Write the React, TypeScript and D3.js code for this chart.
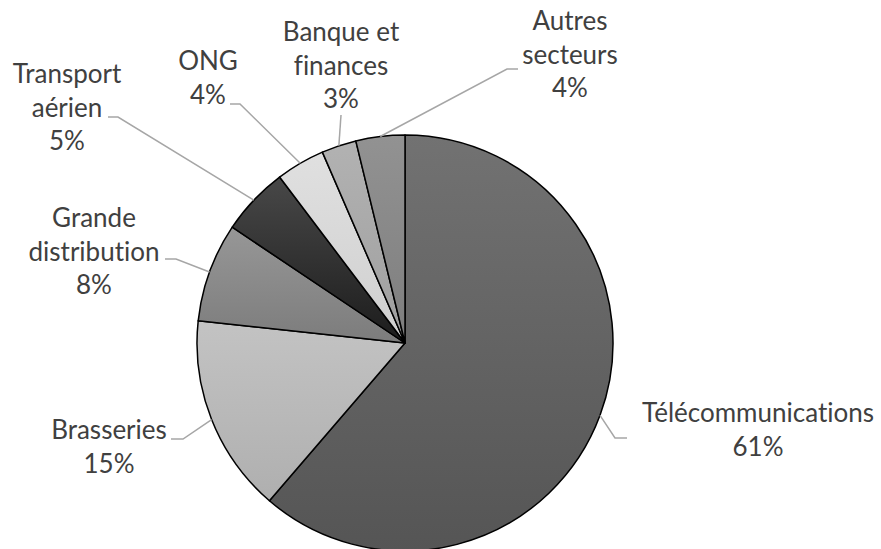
import React from "react";
import * as d3 from "d3";

const categories = [
  "Télécommunications",
  "Brasseries",
  "Grande distribution",
  "Transport aérien",
  "ONG",
  "Banque et finances",
  "Autres secteurs",
];
const values = [61.3, 15.4, 7.7, 5.3, 3.8, 2.7, 3.8];
const labelLines = [
  ["Télécommunications"],
  ["Brasseries"],
  ["Grande", "distribution"],
  ["Transport", "aérien"],
  ["ONG"],
  ["Banque et", "finances"],
  ["Autres", "secteurs"],
];

// layout (positions of labels and leader elbows)
const colorsTop = ["#727272", "#c3c3c3", "#979797", "#484848", "#e0e0e0", "#b2b2b2", "#929292"];
const colorsBottom = ["#555555", "#afafaf", "#7c7c7c", "#1c1c1c", "#cfcfcf", "#9f9f9f", "#7e7e7e"];
const labelPos = [
  { cx: 758, y: 422, elbow: [615, 438], end: [627, 438] },
  { cx: 109, y: 439, elbow: [183, 439], end: [171, 439] },
  { cx: 94, y: 227, elbow: [176, 259], end: [165, 259] },
  { cx: 67, y: 83, elbow: [118, 117], end: [108, 117] },
  { cx: 208, y: 70, elbow: [240, 104], end: [230, 104] },
  { cx: 341, y: 41, elbow: null, end: [341, 115] },
  { cx: 570, y: 30, elbow: [507, 69], end: [518, 69] },
];

const W = 881;
const H = 549;
const CX = 405;
const CY = 343;
const R = 208;
const LINE = 33.5;

export default function App() {
  const total = d3.sum(values);
  const pie = d3
    .pie<number>()
    .sort(null)
    .value((d) => d);
  const arcs = pie(values);
  const arc = d3.arc<d3.PieArcDatum<number>>().innerRadius(0).outerRadius(R);

  return (
    <svg
      width={W}
      height={H}
      style={{ position: "absolute", left: 0, top: 0, background: "#fff" }}
      fontFamily="Lato, 'Open Sans', sans-serif"
    >
      <defs>
        {values.map((_, i) => (
          <linearGradient key={i} id={`g${i}`} x1="0" y1="0" x2="0" y2="1">
            <stop offset="0" stopColor={colorsTop[i]} />
            <stop offset="1" stopColor={colorsBottom[i]} />
          </linearGradient>
        ))}
      </defs>
      <g transform={`translate(${CX},${CY})`}>
        {arcs.map((a, i) => (
          <path
            key={categories[i]}
            d={arc(a) || ""}
            fill={`url(#g${i})`}
            stroke="#000"
            strokeWidth={1.5}
            strokeLinejoin="round"
          />
        ))}
      </g>
      {arcs.map((a, i) => {
        const mid = (a.startAngle + a.endAngle) / 2;
        const sx = CX + R * Math.sin(mid);
        const sy = CY - R * Math.cos(mid);
        const lp = labelPos[i];
        const pts: [number, number][] = [[sx, sy]];
        if (lp.elbow) pts.push(lp.elbow as [number, number]);
        pts.push(lp.end as [number, number]);
        const line = d3.line()(pts) || "";
        return <path key={"l" + i} d={line} fill="none" stroke="#a6a6a6" strokeWidth={1.5} />;
      })}
      {labelLines.map((lines, i) => {
        const lp = labelPos[i];
        const pct = Math.round((values[i] / total) * 100) + "%";
        const all = [...lines, pct];
        return (
          <text
            key={"t" + i}
            x={lp.cx}
            y={lp.y}
            textAnchor="middle"
            fontSize={26}
            fill="#404040"
            style={{ fontVariantLigatures: "none" }}
          >
            {all.map((s, j) => (
              <tspan key={j} x={lp.cx} y={lp.y + j * LINE}>
                {s}
              </tspan>
            ))}
          </text>
        );
      })}
    </svg>
  );
}
